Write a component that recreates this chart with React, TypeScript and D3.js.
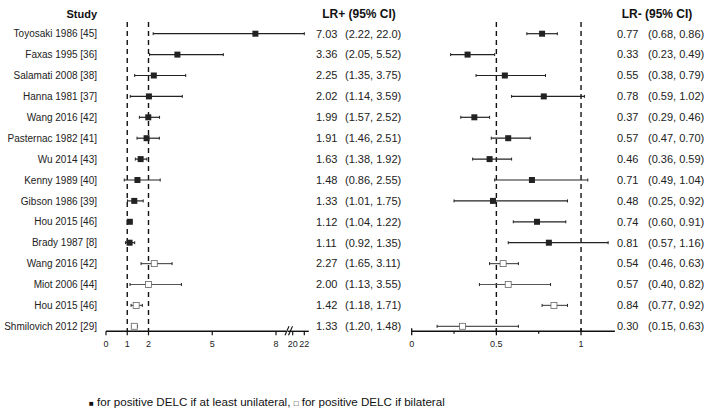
import React from "react";
import * as d3 from "d3";

const studies = [
  "Toyosaki 1986 [45]", "Faxas 1995 [36]", "Salamati 2008 [38]", "Hanna 1981 [37]",
  "Wang 2016 [42]", "Pasternac 1982 [41]", "Wu 2014 [43]", "Kenny 1989 [40]",
  "Gibson 1986 [39]", "Hou 2015 [46]", "Brady 1987 [8]", "Wang 2016 [42]",
  "Miot 2006 [44]", "Hou 2015 [46]", "Shmilovich 2012 [29]",
];
const bilateral = [false, false, false, false, false, false, false, false, false, false, false, true, true, true, true];
const lrPos = [7.03, 3.36, 2.25, 2.02, 1.99, 1.91, 1.63, 1.48, 1.33, 1.12, 1.11, 2.27, 2.0, 1.42, 1.33];
const lrPosLo = [2.22, 2.05, 1.35, 1.14, 1.57, 1.46, 1.38, 0.86, 1.01, 1.04, 0.92, 1.65, 1.13, 1.18, 1.2];
const lrPosHi = [22.0, 5.52, 3.75, 3.59, 2.52, 2.51, 1.92, 2.55, 1.75, 1.22, 1.35, 3.11, 3.55, 1.71, 1.48];
const lrPosText = ["7.03", "3.36", "2.25", "2.02", "1.99", "1.91", "1.63", "1.48", "1.33", "1.12", "1.11", "2.27", "2.00", "1.42", "1.33"];
const lrPosCI = ["(2.22, 22.0)", "(2.05, 5.52)", "(1.35, 3.75)", "(1.14, 3.59)", "(1.57, 2.52)", "(1.46, 2.51)", "(1.38, 1.92)", "(0.86, 2.55)", "(1.01, 1.75)", "(1.04, 1.22)", "(0.92, 1.35)", "(1.65, 3.11)", "(1.13, 3.55)", "(1.18, 1.71)", "(1.20, 1.48)"];
const lrNeg = [0.77, 0.33, 0.55, 0.78, 0.37, 0.57, 0.46, 0.71, 0.48, 0.74, 0.81, 0.54, 0.57, 0.84, 0.3];
const lrNegLo = [0.68, 0.23, 0.38, 0.59, 0.29, 0.47, 0.36, 0.49, 0.25, 0.6, 0.57, 0.46, 0.4, 0.77, 0.15];
const lrNegHi = [0.86, 0.49, 0.79, 1.02, 0.46, 0.7, 0.59, 1.04, 0.92, 0.91, 1.16, 0.63, 0.82, 0.92, 0.63];
const lrNegText = ["0.77", "0.33", "0.55", "0.78", "0.37", "0.57", "0.46", "0.71", "0.48", "0.74", "0.81", "0.54", "0.57", "0.84", "0.30"];
const lrNegCI = ["(0.68, 0.86)", "(0.23, 0.49)", "(0.38, 0.79)", "(0.59, 1.02)", "(0.29, 0.46)", "(0.47, 0.70)", "(0.36, 0.59)", "(0.49, 1.04)", "(0.25, 0.92)", "(0.60, 0.91)", "(0.57, 1.16)", "(0.46, 0.63)", "(0.40, 0.82)", "(0.77, 0.92)", "(0.15, 0.63)"];
const posTicks = [0, 1, 2, 5, 8, 20, 22];
const posRefs = [1, 2];
const negTicks = [0, 0.5, 1];
const negMinor = [0.25, 0.75];
const negRefs = [0.5, 1];
const legendText = "for positive DELC if at least unilateral, ";
const legendText2 = "for positive DELC if bilateral";

const FONT = "'Liberation Sans', Arial, sans-serif";

export default function App() {
  const W = 714, H = 413;
  const y = d3.scaleLinear().domain([0, studies.length - 1]).range([33.7, 326.3]);
  const xL = d3.scaleLinear().domain([0, 8, 20, 22]).range([106, 276, 292.7, 304.3]);
  const xR = d3.scaleLinear().domain([0, 1.2]).range([411.7, 614.9]);
  const axisY = 331.3;
  const refTop = 22;
  const sz = 6;
  const ink = "#222";

  const rows = studies.map((s, i) => ({ s, i, bil: bilateral[i] }));

  const forest = (x: d3.ScaleLinear<number, number>, est: number[], lo: number[], hi: number[], key: string) =>
    rows.map(({ i, bil }) => {
      const cy = y(i);
      const x1 = x(lo[i]), x2 = x(hi[i]), cx = x(est[i]);
      return (
        <g key={key + i}>
          <line x1={x1} x2={x2} y1={cy} y2={cy} stroke={bil ? "#555" : ink} strokeWidth={1.2} />
          <line x1={x1} x2={x1} y1={cy - 1.5} y2={cy + 1.5} stroke={ink} strokeWidth={1} />
          <line x1={x2} x2={x2} y1={cy - 1.5} y2={cy + 1.5} stroke={ink} strokeWidth={1} />
          {bil ? (
            <rect x={cx - sz / 2} y={cy - sz / 2} width={sz} height={sz} fill="#fff" stroke="#666" strokeWidth={0.8} />
          ) : (
            <rect x={cx - sz / 2} y={cy - sz / 2} width={sz} height={sz} fill={ink} />
          )}
        </g>
      );
    });

  return (
    <svg width={W} height={H} style={{ position: "absolute", left: 0, top: 0, background: "#fff" }} fontFamily={FONT}>
      <rect width={W} height={H} fill="#fff" />
      {/* headers */}
      <text x={97} y={18} textAnchor="end" fontWeight="bold" fontSize={11} fill="#111">Study</text>
      <text x={359} y={18} textAnchor="middle" fontWeight="bold" fontSize={12} fill="#111">LR+ (95% CI)</text>
      <text x={657} y={18} textAnchor="middle" fontWeight="bold" fontSize={12} fill="#111">LR- (95% CI)</text>

      {/* study labels and values */}
      {rows.map(({ s, i }) => (
        <g key={"lab" + i} fill="#222">
          <text x={97} y={y(i) + 3.6} textAnchor="end" fontSize={10}>{s}</text>
          <text x={316} y={y(i) + 3.8} fontSize={11}>{lrPosText[i]}</text>
          <text x={345} y={y(i) + 3.8} fontSize={11}>{lrPosCI[i]}</text>
          <text x={617} y={y(i) + 3.8} fontSize={11}>{lrNegText[i]}</text>
          <text x={648} y={y(i) + 3.8} fontSize={11}>{lrNegCI[i]}</text>
        </g>
      ))}

      {/* reference lines */}
      {posRefs.map((r) => (
        <line key={"pr" + r} x1={xL(r)} x2={xL(r)} y1={refTop} y2={axisY} stroke="#111" strokeWidth={1.4} strokeDasharray="5,4" />
      ))}
      {negRefs.map((r) => (
        <line key={"nr" + r} x1={xR(r)} x2={xR(r)} y1={refTop} y2={axisY} stroke="#111" strokeWidth={1.4} strokeDasharray="5,4" />
      ))}

      {forest(xL, lrPos, lrPosLo, lrPosHi, "p")}
      {forest(xR, lrNeg, lrNegLo, lrNegHi, "n")}

      {/* left axis */}
      <line x1={xL(0)} x2={xL(8) + 10} y1={axisY} y2={axisY} stroke="#111" strokeWidth={1.4} />
      <line x1={xL(20) - 5} x2={xL(22) + 4.5} y1={axisY} y2={axisY} stroke="#111" strokeWidth={1.4} />
      <line x1={xL(8) + 9} x2={xL(8) + 13} y1={axisY + 4} y2={axisY - 5} stroke="#111" strokeWidth={1.1} />
      <line x1={xL(8) + 12.5} x2={xL(8) + 16.5} y1={axisY + 4} y2={axisY - 5} stroke="#111" strokeWidth={1.1} />
      {posTicks.map((t) => (
        <g key={"pt" + t}>
          <line x1={xL(t)} x2={xL(t)} y1={axisY} y2={axisY + 4} stroke="#111" strokeWidth={1.2} />
          <text x={xL(t)} y={axisY + 16} textAnchor="middle" fontSize={9} fill="#222">{t}</text>
        </g>
      ))}

      {/* right axis */}
      <line x1={xR(0)} x2={xR(1.2)} y1={axisY} y2={axisY} stroke="#111" strokeWidth={1.4} />
      {negTicks.map((t) => (
        <g key={"nt" + t}>
          <line x1={xR(t)} x2={xR(t)} y1={axisY - 3} y2={axisY + 4} stroke="#111" strokeWidth={1.3} />
          <text x={xR(t)} y={axisY + 16} textAnchor="middle" fontSize={9} fill="#222">{t}</text>
        </g>
      ))}
      {negMinor.map((t) => (
        <line key={"nm" + t} x1={xR(t)} x2={xR(t)} y1={axisY} y2={axisY + 2.5} stroke="#111" strokeWidth={1.2} />
      ))}

      {/* legend */}
      <text x={89} y={406} fontSize={11.6} fill="#111">
        <tspan fontSize={8}>■</tspan>
        <tspan> {legendText}</tspan>
        <tspan fontSize={8}>□</tspan>
        <tspan> {legendText2}</tspan>
      </text>
    </svg>
  );
}
